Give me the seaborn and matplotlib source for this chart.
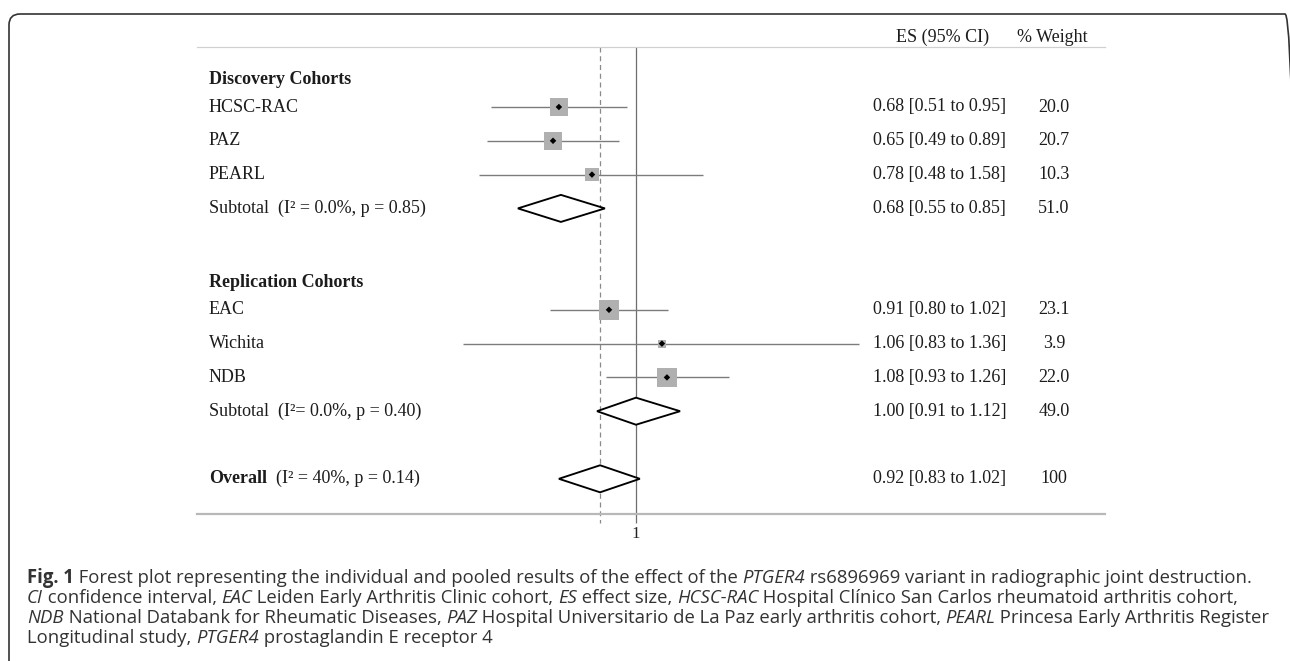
import matplotlib
matplotlib.use("Agg")
import numpy as np
import pandas as pd
import seaborn as sns
import matplotlib.pyplot as plt
from matplotlib.patches import FancyBboxPatch
from matplotlib.transforms import IdentityTransform

# ---- data ----
groups = ["Discovery Cohorts", "Replication Cohorts"]
study_group = [0, 0, 0, 1, 1, 1]
studies = ["HCSC-RAC", "PAZ", "PEARL", "EAC", "Wichita", "NDB"]
# plotted positions (as drawn in the figure)
es_plot = [0.672, 0.652, 0.797, 0.870, 1.143, 1.173]
lo_plot = [0.474, 0.464, 0.445, 0.642, 0.410, 0.857]
hi_plot = [0.955, 0.916, 1.412, 1.179, 3.15, 1.615]
weights = [20.0, 20.7, 10.3, 23.1, 3.9, 22.0]
es_text = ["0.68 [0.51 to 0.95]", "0.65 [0.49 to 0.89]", "0.78 [0.48 to 1.58]",
           "0.91 [0.80 to 1.02]", "1.06 [0.83 to 1.36]", "1.08 [0.93 to 1.26]"]
weight_text = ["20.0", "20.7", "10.3", "23.1", "3.9", "22.0"]

sub_labels = ["Subtotal  (I\u00b2 = 0.0%, p = 0.85)", "Subtotal  (I\u00b2= 0.0%, p = 0.40)"]
sub_es = [0.679, 1.0]
sub_lo = [0.544, 0.818]
sub_hi = [0.852, 1.255]
sub_text = ["0.68 [0.55 to 0.85]", "1.00 [0.91 to 1.12]"]
sub_weight = ["51.0", "49.0"]

overall_stat = "(I\u00b2 = 40%, p = 0.14)"
overall_es, overall_lo, overall_hi = 0.831, 0.672, 1.02
overall_text = "0.92 [0.83 to 1.02]"
overall_weight = "100"

caption = [
    [("Fig. 1", "b"), (" Forest plot representing the individual and pooled results of the effect of the ", "r"),
     ("PTGER4", "i"), (" rs6896969 variant in radiographic joint destruction.", "r")],
    [("CI", "i"), (" confidence interval, ", "r"), ("EAC", "i"), (" Leiden Early Arthritis Clinic cohort, ", "r"),
     ("ES", "i"), (" effect size, ", "r"), ("HCSC-RAC", "i"),
     (" Hospital Cl\u00ednico San Carlos rheumatoid arthritis cohort,", "r")],
    [("NDB", "i"), (" National Databank for Rheumatic Diseases, ", "r"), ("PAZ", "i"),
     (" Hospital Universitario de La Paz early arthritis cohort, ", "r"), ("PEARL", "i"),
     (" Princesa Early Arthritis Register", "r")],
    [("Longitudinal study, ", "r"), ("PTGER4", "i"), (" prostaglandin E receptor 4", "r")],
]

# ---- layout ----
W, H = 1290, 661
sns.set_theme(style="white")
plt.rcParams["font.family"] = ["Liberation Serif", "DejaVu Serif"]
fig = plt.figure(figsize=(W / 100, H / 100), dpi=100)

row_px = 33.8
top_px, bot_px = 47, 514
x_left, x_right = 197, 1105
k = 194.0  # px per ln unit
one_px = 636
ax = fig.add_axes([x_left / W, 1 - bot_px / H, (x_right - x_left) / W, (bot_px - top_px) / H])
ax.set_xscale("log")
ax.set_xlim(np.exp((x_left - one_px) / k), np.exp((x_right - one_px) / k))
ax.set_ylim(1 + (bot_px - 107) / row_px, 1 + (top_px - 107) / row_px)

# row indices
study_rows = [1, 2, 3, 7, 8, 9]
sub_rows = [4, 10]
head_rows = [0.2, 6.2]
overall_row = 12

df = pd.DataFrame({"study": studies, "es": es_plot, "lo": lo_plot, "hi": hi_plot,
                   "weight": weights, "row": study_rows})

ax.hlines(df["row"], df["lo"], df["hi"], color="#7c7c7c", lw=1.0, zorder=2)
c = 8.6
sns.scatterplot(data=df, x="es", y="row", size="weight", sizes=(c * min(weights), c * max(weights)),
                size_norm=(min(weights), max(weights)), marker="s", color="#b0b0b0",
                edgecolor="none", legend=False, ax=ax, zorder=3)
sns.scatterplot(data=df, x="es", y="row", marker="D", color="black", s=11, edgecolor="none",
                legend=False, ax=ax, zorder=4)

dh = 0.4
for r, e, lo, hi in zip(sub_rows + [overall_row], sub_es + [overall_es], sub_lo + [overall_lo], sub_hi + [overall_hi]):
    ax.fill([lo, e, hi, e, lo], [r, r - dh, r, r + dh, r], facecolor="white", edgecolor="black",
            lw=1.35, zorder=5)

y0, y1 = ax.get_ylim()
ext = y0 + 9 / row_px
ax.vlines([1.0], y1, ext, color="#6e6e6e", lw=0.9, clip_on=False, zorder=1)
ax.vlines([overall_es], y1, ext, color="#8a8a8a", lw=0.9, linestyles=(0, (4, 3)), clip_on=False, zorder=1)

for s in ["left", "right"]:
    ax.spines[s].set_visible(False)
ax.spines["top"].set_color("#d0d0d0")
ax.spines["top"].set_linewidth(0.9)
ax.spines["bottom"].set_color("#b8b8b8")
ax.spines["bottom"].set_linewidth(1.6)
ax.set_yticks([])
ax.set_xticks([1.0])
ax.set_xticks([], minor=True)
ax.set_xticklabels(["1"], fontsize=12, color="#222222")
ax.tick_params(axis="x", length=0, pad=9)
ax.set_xlabel("")
ax.set_ylabel("")

def ypx(r):
    return ax.transData.transform((1.0, r))[1]

fs = 13
tc = "#1c1c1c"
lab_x = 209 / W
es_x = 873 / W
wt_x = 1054 / W

for g, r in zip(groups, head_rows):
    fig.text(lab_x, ypx(r) / H, g, fontsize=fs, fontweight="bold", va="center", color=tc)
for s, r, et, wt in zip(studies, study_rows, es_text, weight_text):
    fig.text(lab_x, ypx(r) / H, s, fontsize=fs, va="center", color=tc)
    fig.text(es_x, ypx(r) / H, et, fontsize=fs, va="center", color=tc)
    fig.text(wt_x, ypx(r) / H, wt, fontsize=fs, va="center", ha="center", color=tc)
for s, r, et, wt in zip(sub_labels, sub_rows, sub_text, sub_weight):
    fig.text(lab_x, ypx(r) / H, s, fontsize=fs, va="center", color=tc)
    fig.text(es_x, ypx(r) / H, et, fontsize=fs, va="center", color=tc)
    fig.text(wt_x, ypx(r) / H, wt, fontsize=fs, va="center", ha="center", color=tc)

renderer = fig.canvas.get_renderer()

def advance(s, **props):
    t1 = fig.text(0, 0, "|" + s + "|", **props)
    t2 = fig.text(0, 0, "||", **props)
    w = t1.get_window_extent(renderer).width - t2.get_window_extent(renderer).width
    t1.remove()
    t2.remove()
    return w

yo = ypx(overall_row) / H
fig.text(lab_x, yo, "Overall", fontsize=fs, fontweight="bold", va="center", color=tc)
bw = advance("Overall  ", fontsize=fs, fontweight="bold")
fig.text(lab_x + bw / W, yo, overall_stat, fontsize=fs, va="center", color=tc)
fig.text(es_x, yo, overall_text, fontsize=fs, va="center", color=tc)
fig.text(wt_x, yo, overall_weight, fontsize=fs, va="center", ha="center", color=tc)

fig.text(943 / W, 1 - 37 / H, "ES (95% CI)", fontsize=fs, va="center", ha="center", color=tc)
fig.text(1052 / W, 1 - 37 / H, "% Weight", fontsize=fs, va="center", ha="center", color=tc)

# ---- caption ----
cap_font = ["Open Sans", "DejaVu Sans"]
styles = {"r": {}, "b": {"fontweight": "bold"}, "i": {"style": "italic"}}

def line_width(runs, size):
    return sum(advance(s, fontsize=size, family=cap_font, **styles[st]) for s, st in runs)

cap_fs = 10 * 1227 / line_width(caption[0], 10)
cap_y = [578, 598, 618, 638]
for runs, yy in zip(caption, cap_y):
    x = 27
    for s, st in runs:
        fig.text(x / W, 1 - yy / H, s, fontsize=cap_fs, family=cap_font, va="center",
                 color="#333333", **styles[st])
        x += advance(s, fontsize=cap_fs, family=cap_font, **styles[st])

frame = FancyBboxPatch((9, -30), 1287, H - 14 + 30, boxstyle="round,pad=0,rounding_size=11",
                       transform=IdentityTransform(), facecolor="none", edgecolor="#333333", lw=1.2)
fig.add_artist(frame)

fig.savefig("out.png", dpi=100)
